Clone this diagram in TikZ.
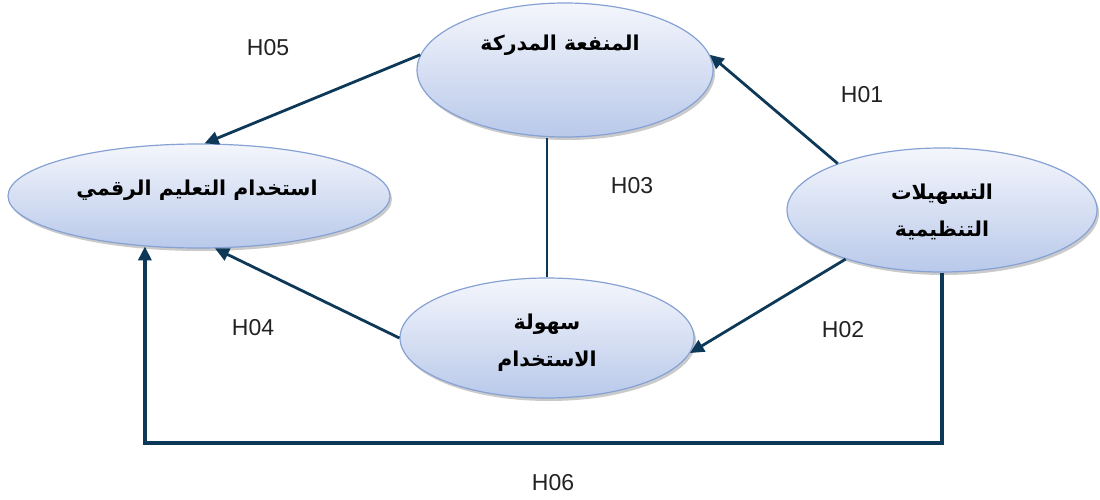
\documentclass[tikz,border=0pt]{standalone}
\usepackage{fontspec}
\setmainfont{Liberation Sans}
\newfontfamily\arabicfont[Script=Arabic]{DejaVu Sans}
\TeXXeTstate=1
\usetikzlibrary{shapes.geometric,arrows.meta,shadows}
\definecolor{edgec}{HTML}{0D3858}
\definecolor{ebord}{HTML}{86A2D4}
\definecolor{etop}{HTML}{F4F6FC}
\definecolor{ebot}{HTML}{B9C9EA}
\definecolor{labc}{HTML}{222222}
\tikzset{
  ell/.style={ellipse, draw=ebord, line width=1.2pt, top color=etop, bottom color=ebot,
    inner sep=0pt, drop shadow={shadow xshift=2pt, shadow yshift=-3pt, opacity=0.35, fill=black!60}},
  atext/.style={font=\arabicfont\bfseries\fontsize{20.5}{37}\selectfont, align=center, inner sep=0pt, text=black},
  hlab/.style={font=\fontsize{23}{26}\selectfont, text=labc, inner sep=0pt},
  conn/.style={draw=edgec, line width=2.8pt, -{Triangle[length=14pt,width=13pt]}},
  plain/.style={draw=edgec, line width=2.8pt}
}
\begin{document}
\begin{tikzpicture}[x=1pt,y=-1pt]
\useasboundingbox (0,0) rectangle (1100,500);
\node[ell, minimum width=296pt, minimum height=134pt] (a) at (565,70) {};
\node[ell, minimum width=382pt, minimum height=104pt] (b) at (199,196) {};
\node[ell, minimum width=310pt, minimum height=124pt] (c) at (942,210) {};
\node[ell, minimum width=294pt, minimum height=120pt] (d) at (547,338) {};

\node[atext] (ta) at (560,45) {\beginR المنفعة المدركة\endR};
\node[atext] (tb) at (197,190) {\beginR استخدام  التعليم الرقمي\endR};
\node[atext] (tc) at (942,212) {\beginR التسهيلات\endR\\\beginR التنظيمية\endR};
\node[atext] (td) at (547,343) {\beginR سهولة\endR\\\beginR الاستخدام\endR};

\path[conn] (a.174) -- (b.84);
\path[conn] (c.156) -- (a.6);
\path[plain] (d.north) -- (d.north |- a.south);
\path[conn] (c.207) -- (d.354);
\path[conn] (d.west) -- (b.287);
\coordinate (h6) at (0,443);
\path[conn, line width=3.8pt] (c.south) -- (c.south |- h6) -| (b.223);

\node[hlab] (l5) at (268,48) {H05};
\node[hlab] (l1) at (862,95) {H01};
\node[hlab] (l3) at (632,186) {H03};
\node[hlab] (l4) at (253,328) {H04};
\node[hlab] (l2) at (843,330) {H02};
\node[hlab] (l6) at (553,483) {H06};
\end{tikzpicture}
\end{document}
